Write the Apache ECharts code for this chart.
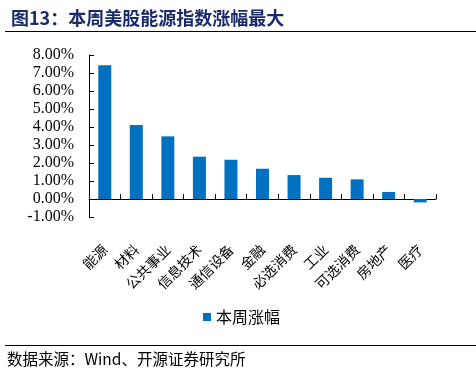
<!DOCTYPE html>
<html><head><meta charset="utf-8">
<script src="https://cdn.jsdelivr.net/npm/echarts@6/dist/echarts.min.js"></script>
<style>html,body{margin:0;padding:0;background:#fff}#c{width:476px;height:374px}</style>
</head><body><div id="c"></div>
<script>
var categories = ['能源','材料','公共事业','信息技术','通信设备','金融','必选消费','工业','可选消费','房地产','医疗'];
var weeklyChange = [7.43, 4.11, 3.48, 2.35, 2.18, 1.68, 1.33, 1.18, 1.09, 0.39, -0.19];
var seriesName = '本周涨幅';
var titleText = '图13：本周美股能源指数涨幅最大';
var sourceText = '数据来源：Wind、开源证券研究所';

var chart = echarts.init(document.getElementById('c'));
chart.setOption({
  animation: false,
  backgroundColor: '#fff',
  title: {
    text: titleText, left: 6, top: 4,
    textStyle: {fontFamily: 'Noto Sans CJK SC', fontSize: 18, fontWeight: 'bold', color: '#1B2A6B'}
  },
  graphic: [
    {type: 'line', shape: {x1: 5, y1: 31.5, x2: 476, y2: 31.5}, style: {stroke: '#000', lineWidth: 1}},
    {type: 'line', shape: {x1: 5, y1: 345.5, x2: 476, y2: 345.5}, style: {stroke: '#000', lineWidth: 1}},
    {type: 'text', left: 7, top: 351, style: {text: sourceText, font: '15.5px "Noto Sans CJK SC"', fill: '#000'}}
  ],
  legend: {
    data: [seriesName], left: 198, top: 304, icon: 'rect', itemWidth: 8, itemHeight: 8, itemGap: 4,
    textStyle: {fontFamily: 'Noto Sans CJK SC', fontSize: 16, color: '#000'}
  },
  grid: {left: 89, right: 40, top: 55, bottom: 157, containLabel: false},
  xAxis: {
    type: 'category', data: categories,
    axisLine: {onZero: true, lineStyle: {color: '#000', width: 1}},
    axisTick: {show: true, inside: true, length: 5, lineStyle: {color: '#000'}},
    axisLabel: {rotate: 45, margin: 30, interval: 0, fontFamily: 'Noto Sans CJK SC', fontSize: 14, color: '#000'}
  },
  yAxis: {
    type: 'value', min: -1, max: 8, interval: 1,
    splitLine: {show: false},
    axisLine: {show: true, lineStyle: {color: '#000', width: 1}},
    axisTick: {show: true, inside: true, length: 5, lineStyle: {color: '#000'}},
    axisLabel: {margin: 15, fontFamily: 'Liberation Serif', fontSize: 16, color: '#000',
      formatter: function (v) { return v.toFixed(2) + '%'; }}
  },
  series: [{
    name: seriesName, type: 'bar', data: weeklyChange, barWidth: 13,
    itemStyle: {color: '#0070C0'}
  }]
});
</script></body></html>
